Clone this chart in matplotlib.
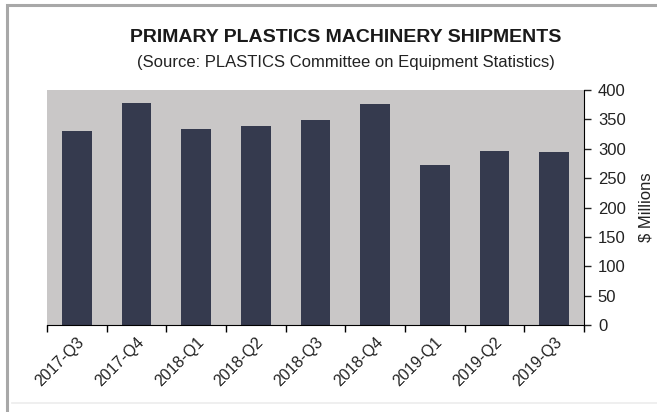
import matplotlib.pyplot as plt
from matplotlib.patches import Rectangle

quarters = ["2017-Q3", "2017-Q4", "2018-Q1", "2018-Q2", "2018-Q3",
            "2018-Q4", "2019-Q1", "2019-Q2", "2019-Q3"]
shipments = [331, 378, 334, 339, 349, 376, 272, 296, 294]
yticks = [0, 50, 100, 150, 200, 250, 300, 350, 400]

plt.rcParams['font.family'] = ['Liberation Sans', 'DejaVu Sans']

fig = plt.figure(figsize=(6.57, 4.12), dpi=100)
fig.patch.set_facecolor('white')

# grey frame round the whole chart
fig.patches.append(Rectangle((7 / 657, -0.05), 1.0, 1.05 - 5 / 412,
                             transform=fig.transFigure, fill=False,
                             edgecolor='#a8a8a8', linewidth=2.2))
# faint rule near the bottom
fig.lines.append(plt.Line2D([12 / 657, 1.0], [1 - 403 / 412] * 2,
                            transform=fig.transFigure, color='#ececec',
                            linewidth=1.2))

ax = fig.add_axes([47 / 657, 87 / 412, 537 / 657, 235 / 412])
ax.set_facecolor('#c9c7c7')

x = range(len(quarters))
ax.bar(x, shipments, width=0.5, color='#353a4e')

ax.set_xlim(-0.5, len(quarters) - 0.5)
ax.set_ylim(0, 400)

ax.spines['top'].set_visible(False)
ax.spines['left'].set_visible(False)
ax.spines['right'].set_color('black')
ax.spines['bottom'].set_color('black')

ax.yaxis.tick_right()
ax.yaxis.set_label_position('right')
ax.set_yticks(yticks)
ax.tick_params(axis='y', direction='out', length=5, width=1, labelsize=12,
               pad=5, colors='#222222')
ax.set_ylabel('$ Millions', fontsize=12, color='#222222')
ax.yaxis.set_label_coords((638 - 47) / 537, 0.5)

ax.set_xticks(list(x))
ax.set_xticklabels(quarters, rotation=45, ha='right', rotation_mode='anchor',
                   fontsize=11.5, color='#222222')
ax.set_xticks([i - 0.5 for i in range(len(quarters) + 1)], minor=True)
ax.tick_params(axis='x', which='major', length=0, pad=7)
ax.tick_params(axis='x', which='minor', direction='out', length=5, width=1)

fig.text(346 / 657, 1 - 37 / 412, 'PRIMARY PLASTICS MACHINERY SHIPMENTS',
         ha='center', va='center', fontsize=14, fontweight='bold',
         color='#1a1a1a')
fig.text(346 / 657, 1 - 62 / 412,
         '(Source: PLASTICS Committee on Equipment Statistics)',
         ha='center', va='center', fontsize=12, color='#222222')

fig.savefig('out.png', dpi=100, facecolor='white')
